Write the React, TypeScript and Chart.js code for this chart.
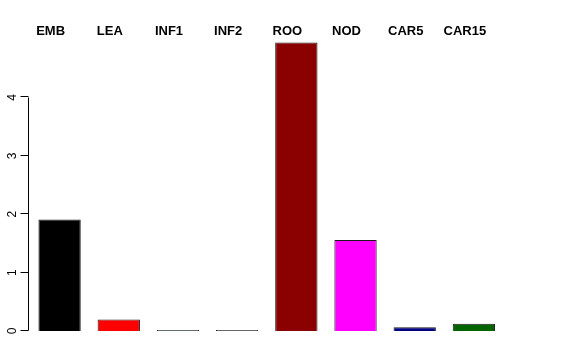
import React, { useEffect, useRef } from "react";
import { Chart, registerables } from "chart.js";

Chart.register(...registerables);

const categories = ["EMB", "LEA", "INF1", "INF2", "ROO", "NOD", "CAR5", "CAR15"];
const values = [1.91, 0.195, 0.017, 0.017, 4.94, 1.56, 0.063, 0.125];
const barColors = ["#000000", "#FF0000", "#3A553A", "#404055", "#8B0000", "#FF00FF", "#000080", "#006400"];
const yTicks = [0, 1, 2, 3, 4];

const FONT = "'Liberation Sans', Arial, Helvetica, sans-serif";

const rAxesPlugin = {
  id: "rAxes",
  afterDraw(chart: any) {
    const ctx = chart.ctx;
    const y = chart.scales.y;
    const x = chart.scales.x;
    const ax = chart.chartArea.left - 1.5;
    ctx.save();
    ctx.strokeStyle = "#000";
    ctx.lineWidth = 1;
    ctx.beginPath();
    ctx.moveTo(ax, Math.round(y.getPixelForValue(yTicks[0])) - 0.5);
    ctx.lineTo(ax, Math.round(y.getPixelForValue(yTicks[yTicks.length - 1])) + 0.5);
    yTicks.forEach((t) => {
      const py = Math.round(y.getPixelForValue(t)) - 0.5;
      ctx.moveTo(ax, py);
      ctx.lineTo(ax - 8, py);
    });
    ctx.stroke();
    ctx.fillStyle = "#000";
    ctx.font = `12px ${FONT}`;
    ctx.textAlign = "center";
    ctx.textBaseline = "middle";
    yTicks.forEach((t) => {
      const py = y.getPixelForValue(t);
      ctx.save();
      ctx.translate(ax - 16, py);
      ctx.rotate(-Math.PI / 2);
      ctx.fillText(String(t), 0, 0);
      ctx.restore();
    });
    ctx.font = `bold 13px ${FONT}`;
    categories.forEach((c, i) => {
      ctx.fillText(c, x.getPixelForValue(i) - 9, 31);
    });
    ctx.restore();
  },
};

export default function App() {
  const ref = useRef<HTMLCanvasElement>(null);
  useEffect(() => {
    if (!ref.current) return;
    const chart = new Chart(ref.current, {
      type: "bar",
      data: {
        labels: categories,
        datasets: [
          {
            data: values,
            backgroundColor: barColors,
            borderColor: "#1a1a1a",
            borderWidth: 1,
            categoryPercentage: 1,
            barPercentage: 0.715,
          },
        ],
      },
      options: {
        animation: false,
        responsive: false,
        maintainAspectRatio: false,
        layout: { padding: { top: 39, bottom: 29, left: 30, right: 72.5 } },
        plugins: { legend: { display: false }, tooltip: { enabled: false } },
        scales: {
          x: { display: false },
          y: { display: false, min: 0, max: 5 },
        },
      },
      plugins: [rAxesPlugin],
    });
    return () => chart.destroy();
  }, []);
  return (
    <div style={{ position: "fixed", top: 0, left: 0, width: 576, height: 360, background: "#fff" }}>
      <canvas ref={ref} width={576} height={360} style={{ width: 576, height: 360 }} />
    </div>
  );
}
